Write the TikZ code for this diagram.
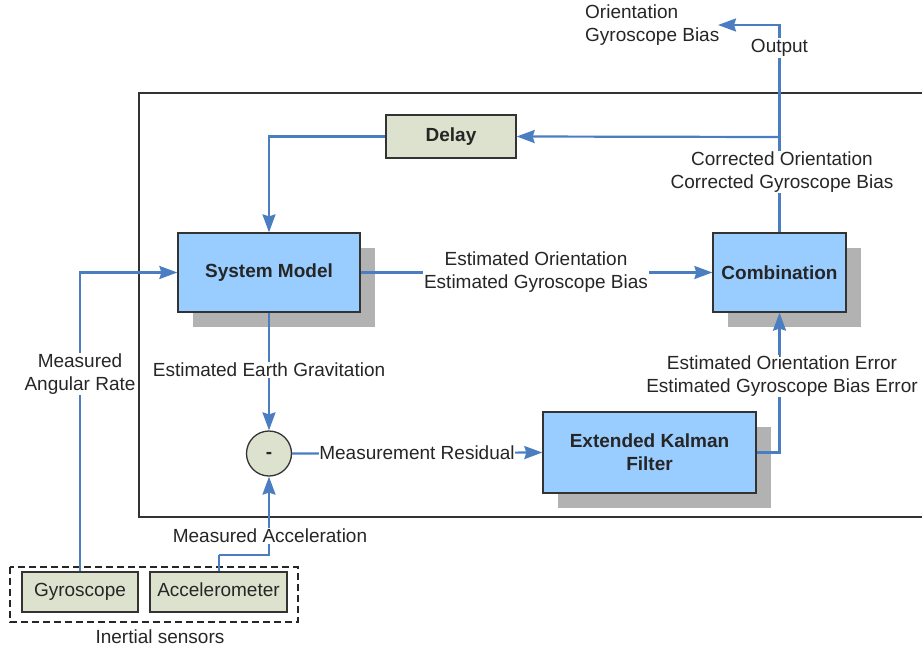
\documentclass[tikz,border=0pt]{standalone}
\usepackage{fontspec}
\setmainfont{Liberation Sans}
\usetikzlibrary{arrows.meta,shadows}
\definecolor{boxblue}{RGB}{153,204,255}
\definecolor{boxgreen}{RGB}{221,226,206}
\definecolor{linkblue}{RGB}{74,126,193}
\definecolor{shadowgray}{RGB}{178,178,178}

\begin{document}
\begin{tikzpicture}[x=1pt, y=-1pt,
    every node/.style={font=\fontsize{19}{23}\selectfont, text=black!85},
    block/.style={draw=black!80, line width=1.3pt, fill=boxblue, align=center,
      font=\fontsize{19}{23}\selectfont\bfseries,
      drop shadow={shadow xshift=15pt, shadow yshift=-15pt, fill=shadowgray, opacity=1}},
    plainbox/.style={draw=black!80, line width=1.3pt, fill=boxgreen, inner sep=0pt,
      text height=13.5pt, text depth=4pt},
    lbl/.style={fill=white, inner sep=1pt, align=center},
    link/.style={draw=linkblue, line width=2.2pt},
    arr/.style={link, -{Stealth[length=18pt,width=13pt,inset=2pt]}}]

    \useasboundingbox (0,0) rectangle (922,648);
    \draw[line width=2pt, black!80] (139,93) rectangle (950,517);

    % blocks
    \node[plainbox, minimum width=130pt, minimum height=43pt, font=\fontsize{19}{23}\selectfont\bfseries] (delay) at (451,136.5) {Delay};
    \node[block, minimum width=182pt, minimum height=79pt] (sysmodel) at (269,272.5) {System Model};
    \node[block, minimum width=133pt, minimum height=79pt] (combo) at (779.5,272.5) {Combination};
    \node[block, minimum width=213pt, minimum height=81pt] (ekf) at (649.5,452.5) {Extended Kalman\\Filter};
    \node[circle, plainbox, minimum size=45pt, font=\fontsize{19}{23}\selectfont\bfseries] (minus) at (269,453.5) {-};
    \node[plainbox, minimum width=116pt, minimum height=40pt] (gyro) at (80,592) {Gyroscope};
    \node[plainbox, minimum width=137pt, minimum height=40pt] (accel) at (218.5,592) {Accelerometer};
    \draw[black!85, line width=1.3pt, dash pattern=on 7pt off 4pt] (10,567) rectangle (298,622);
    \node (inertial) at (160,637) {Inertial sensors};

    \coordinate (out) at (718,25);
    \coordinate (split) at (779.5,137);
    \coordinate (accturn) at (219,555);

    % connectors
    \draw[arr] (combo.north) |- (out);
    \draw[arr] (split) -- (delay.east);
    \draw[arr] (delay.west) -| (sysmodel.north);
    \draw[arr] (sysmodel.east) -- (combo.west);
    \draw[arr] (sysmodel.south) -- (minus.north);
    \draw[arr] (minus.east) -- (ekf.west);
    \draw[arr] (ekf.east) -| (combo.south);
    \draw[arr] (gyro.north) |- (sysmodel.west);
    \draw[link] (accel.north -| accturn) -- (accturn);
    \draw[arr] (accturn) -| (minus.south);

    % labels
    \node[anchor=west, align=left, inner sep=0pt] (outtext) at (585,25.5) {Orientation\\Gyroscope Bias};
    \node[lbl] (outlbl) at (779.5,48) {Output};
    \node[lbl] (corrlbl) at (782,172) {Corrected Orientation\\Corrected Gyroscope Bias};
    \node[lbl] (estlbl) at (536,272) {Estimated Orientation\\Estimated Gyroscope Bias};
    \node[lbl] (gravlbl) at (269,370) {Estimated Earth Gravitation};
    \node[lbl] (ratelbl) at (80,374) {Measured\\Angular Rate};
    \node[lbl] (errlbl) at (782,376) {Estimated Orientation Error\\Estimated Gyroscope Bias Error};
    \node[lbl, inner sep=0.5pt] (reslbl) at (417,453) {Measurement Residual};
    \node[lbl] (acclbl) at (270,536) {Measured Acceleration};
\end{tikzpicture}
\end{document}
